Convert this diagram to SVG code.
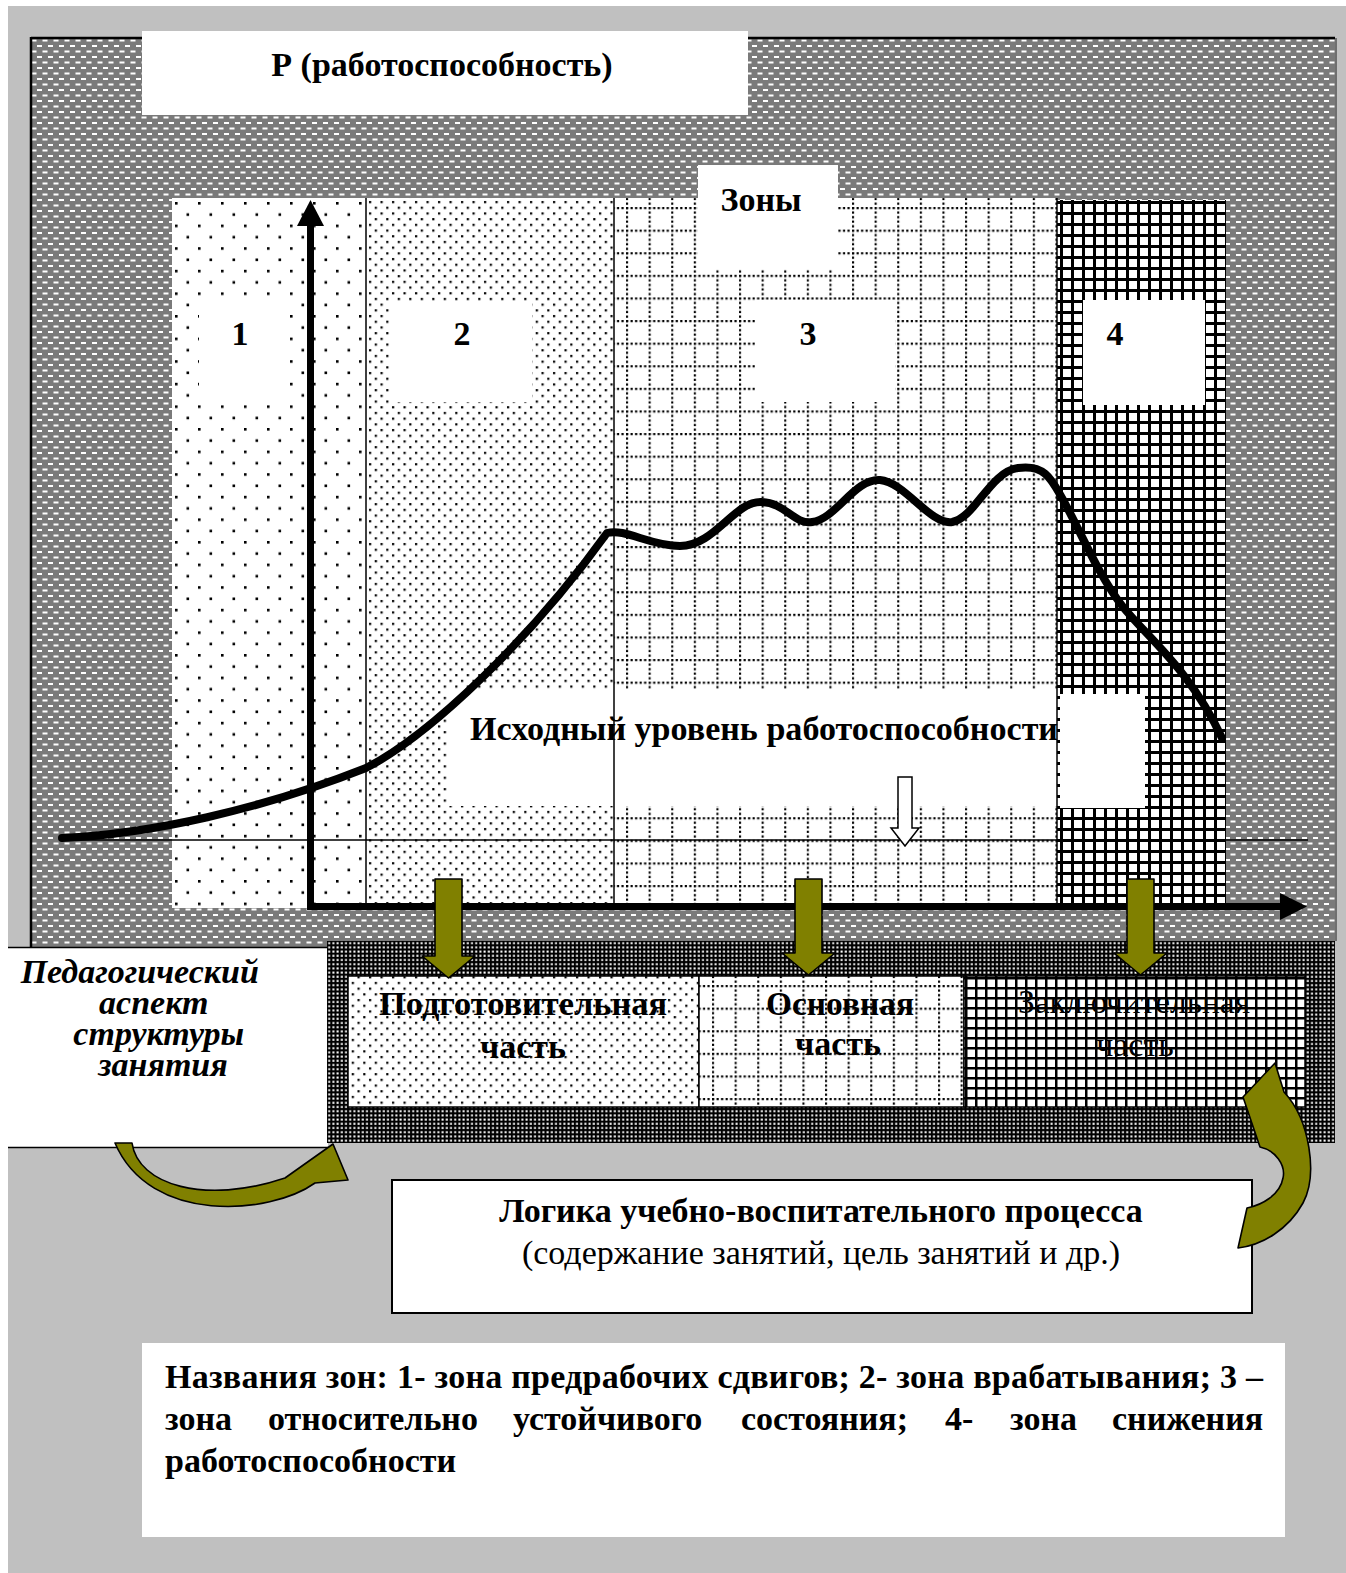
<svg xmlns="http://www.w3.org/2000/svg" width="1346" height="1573" viewBox="0 0 1346 1573">
  <style>
    .t { font-family: "Liberation Serif", "Times New Roman", serif; fill: #000; font-size: 34px; }
    .b { font-weight: bold; }
    .bi { font-weight: bold; font-style: italic; }
    .mid { text-anchor: middle; }
    .thin { stroke: #000; stroke-width: 1.5; fill: none; }
    .olive { fill: #808000; stroke: #000; stroke-width: 1.6; stroke-linejoin: round; }
  </style>
  <defs>
    <!-- grey background with white dashes -->
    <pattern id="pGray" x="31" y="38" width="11" height="11" patternUnits="userSpaceOnUse">
      <rect width="11" height="11" fill="#7a7a7a"/>
      <rect x="0.5" y="1.5" width="5" height="2" fill="#fff"/>
      <rect x="6" y="7" width="5" height="2" fill="#fff"/>
    </pattern>
    <!-- sparse dots -->
    <pattern id="pDot1" x="175" y="202" width="23" height="22.6" patternUnits="userSpaceOnUse">
      <rect width="23" height="22.6" fill="#fff"/>
      <rect x="0" y="0" width="2.6" height="2.6" fill="#000"/>
      <rect x="11.5" y="11.3" width="2.6" height="2.6" fill="#000"/>
    </pattern>
    <!-- dense dots -->
    <pattern id="pDot2" x="368" y="200" width="11.5" height="11.4" patternUnits="userSpaceOnUse">
      <rect width="11.5" height="11.4" fill="#fff"/>
      <rect x="1" y="1" width="2.2" height="2.2" fill="#000"/>
      <rect x="6.75" y="6.7" width="2.2" height="2.2" fill="#000"/>
    </pattern>
    <!-- dotted grid -->
    <pattern id="pDotGrid" x="626" y="207" width="22.6" height="22.6" patternUnits="userSpaceOnUse">
      <rect width="22.6" height="22.6" fill="#fff"/>
      <line x1="0" y1="1" x2="22.6" y2="1" stroke="#000" stroke-width="2.2" stroke-dasharray="2.2 2.32"/>
      <line x1="1" y1="0" x2="1" y2="22.6" stroke="#000" stroke-width="2.2" stroke-dasharray="2.2 2.32"/>
    </pattern>
    <pattern id="pDotGrid2" x="712" y="985" width="22.6" height="22.6" patternUnits="userSpaceOnUse">
      <rect width="22.6" height="22.6" fill="#fff"/>
      <line x1="0" y1="1" x2="22.6" y2="1" stroke="#000" stroke-width="2.2" stroke-dasharray="2.2 2.32"/>
      <line x1="1" y1="0" x2="1" y2="22.6" stroke="#000" stroke-width="2.2" stroke-dasharray="2.2 2.32"/>
    </pattern>
    <!-- bold grid -->
    <pattern id="pGrid" x="1060" y="201" width="11" height="11" patternUnits="userSpaceOnUse">
      <rect width="11" height="11" fill="#fff"/>
      <rect width="11" height="3" fill="#000"/>
      <rect width="3" height="11" fill="#000"/>
    </pattern>
    <pattern id="pGridFine" x="965" y="977" width="10" height="10" patternUnits="userSpaceOnUse">
      <rect width="10" height="10" fill="#fff"/>
      <rect width="10" height="2.5" fill="#000"/>
      <rect width="2.5" height="10" fill="#000"/>
    </pattern>
    <!-- dark checker band -->
    <pattern id="pDark" x="327" y="941" width="4.2" height="4.2" patternUnits="userSpaceOnUse">
      <rect width="4.2" height="4.2" fill="#000"/>
      <rect x="1.2" y="1.2" width="2" height="2" fill="#fff"/>
    </pattern>
  </defs>

  <!-- page background -->
  <rect x="0" y="0" width="1346" height="1573" fill="#fff"/>
  <rect x="8" y="6" width="1338" height="1567" fill="#c0c0c0"/>

  <!-- patterned chart panel -->
  <g id="panel">
    <rect x="31" y="38" width="1304" height="909" fill="url(#pGray)"/>
    <line x1="31" y1="38" x2="1335" y2="38" stroke="#000" stroke-width="2.5"/>
    <line x1="31" y1="37" x2="31" y2="947" stroke="#000" stroke-width="2.5"/>
    <line x1="1336" y1="38" x2="1336" y2="941" stroke="#555" stroke-width="1.5"/>
  </g>

  <g id="title">
    <rect x="142" y="31" width="606" height="84" fill="#fff"/>
    <text class="t b mid" x="442" y="76">Р (работоспособность)</text>
  </g>

  <!-- performance zones -->
  <g id="zone1">
    <rect x="172" y="198" width="194" height="710" fill="url(#pDot1)"/>
    <rect x="199" y="299" width="87" height="102" fill="#fff"/>
    <text class="t b mid" x="240" y="345" font-size="32">1</text>
  </g>
  <g id="zone2">
    <rect x="366" y="198" width="248" height="710" fill="url(#pDot2)"/>
    <rect x="390" y="302" width="142" height="100" fill="#fff"/>
    <text class="t b mid" x="462" y="345" font-size="32">2</text>
  </g>
  <g id="zone3">
    <rect x="614" y="198" width="443" height="710" fill="url(#pDotGrid)"/>
    <rect x="755" y="300" width="140" height="102" fill="#fff"/>
    <text class="t b mid" x="808" y="345" font-size="32">3</text>
  </g>
  <g id="zone4">
    <rect x="1057" y="200" width="169" height="708" fill="url(#pGrid)"/>
    <rect x="1083" y="300" width="122" height="105" fill="#fff"/>
    <text class="t b mid" x="1115" y="345" font-size="32">4</text>
  </g>
  <g id="zones-label">
    <rect x="698" y="165" width="140" height="103" fill="#fff"/>
    <text class="t b mid" x="761" y="211">Зоны</text>
  </g>

  <g id="baseline-label">
    <rect x="447" y="690" width="610" height="116" fill="#fff"/>
    <rect x="1060" y="694" width="85" height="114" fill="#fff"/>
    <text class="t b" x="470" y="740" textLength="588" lengthAdjust="spacingAndGlyphs">Исходный уровень работоспособности</text>
  </g>

  <!-- zone dividers and reference line -->
  <g id="guides">
    <line class="thin" x1="366" y1="198" x2="366" y2="908"/>
    <line class="thin" x1="614" y1="198" x2="614" y2="908"/>
    <line class="thin" x1="1057" y1="198" x2="1057" y2="908"/>
    <line class="thin" x1="60" y1="840" x2="1308" y2="840"/>
  </g>

  <!-- axes -->
  <g id="axes">
    <line x1="310.5" y1="222" x2="310.5" y2="910" stroke="#000" stroke-width="7"/>
    <polygon points="310.5,200 297,226 324,226" fill="#000"/>
    <line x1="307" y1="906.5" x2="1284" y2="906.5" stroke="#000" stroke-width="7"/>
    <polygon points="1307,906.5 1280,893 1280,920" fill="#000"/>
  </g>

  <!-- performance curve -->
  <g id="curve">
    <path d="M62,838 C150,834 260,810 366,768 C430,735 530,640 607,533 C625,528 650,546 680,546 C715,546 735,500 762,502 C785,503 795,525 812,522 C835,520 855,478 880,480 C905,482 930,525 952,522 C975,518 990,472 1018,468 C1045,464 1052,480 1062,498 C1080,530 1098,575 1123,607 C1150,640 1190,670 1222,738" fill="none" stroke="#000" stroke-width="8" stroke-linecap="round" stroke-linejoin="round"/>
  </g>

  <!-- lesson structure -->
  <g id="aspect-box">
    <rect x="8" y="947" width="320" height="201" fill="#fff"/>
    <line x1="8" y1="947.5" x2="328" y2="947.5" stroke="#000" stroke-width="1.5"/>
    <line x1="8" y1="1147.5" x2="328" y2="1147.5" stroke="#000" stroke-width="1.5"/>
    <text class="t bi mid" font-size="33">
      <tspan x="144" y="983">Педагогический</tspan>
      <tspan x="158" y="1014">аспект</tspan>
      <tspan x="163" y="1045">структуры</tspan>
      <tspan x="163" y="1076">занятия</tspan>
    </text>
  </g>

  <g id="parts-band">
    <rect x="327" y="941" width="1008" height="202" fill="url(#pDark)"/>
  </g>
  <g id="part-prep">
    <rect x="348" y="976" width="351" height="131" fill="url(#pDot2)" stroke="#000" stroke-width="1.5"/>
    <text class="t b mid" x="523" y="1015" textLength="288" lengthAdjust="spacingAndGlyphs">Подготовительная</text>
    <text class="t b mid" x="523" y="1058">часть</text>
  </g>
  <g id="part-main">
    <rect x="699" y="976" width="265" height="131" fill="url(#pDotGrid2)" stroke="#000" stroke-width="1.5"/>
    <text class="t b mid" x="840" y="1015" textLength="148" lengthAdjust="spacingAndGlyphs">Основная</text>
    <text class="t b mid" x="838" y="1055">часть</text>
  </g>
  <g id="part-final">
    <rect x="964" y="976" width="341" height="131" fill="url(#pGridFine)" stroke="#000" stroke-width="1.5"/>
    <text class="t mid" x="1134" y="1013" font-size="31" textLength="232" lengthAdjust="spacingAndGlyphs">Заключительная</text>
    <text class="t mid" x="1135" y="1056" font-size="31">часть</text>
  </g>

  <g id="logic-box">
    <rect x="392" y="1180" width="860" height="133" fill="#fff" stroke="#000" stroke-width="2"/>
    <text class="t b mid" x="821" y="1222">Логика учебно-воспитательного процесса</text>
    <text class="t mid" x="821" y="1264">(содержание занятий, цель занятий и др.)</text>
  </g>

  <g id="legend">
    <rect x="142" y="1343" width="1143" height="194" fill="#fff"/>
    <text class="t b" x="165" y="1388" textLength="1098" lengthAdjust="spacing">Названия зон: 1- зона предрабочих сдвигов; 2- зона врабатывания; 3 –</text>
    <text class="t b" y="1430">
      <tspan x="165">зона</tspan>
      <tspan x="268">относительно</tspan>
      <tspan x="513">устойчивого</tspan>
      <tspan x="741">состояния;</tspan>
      <tspan x="945">4-</tspan>
      <tspan x="1010">зона</tspan>
      <tspan x="1112">снижения</tspan>
    </text>
    <text class="t b" x="165" y="1472">работоспособности</text>
  </g>

  <!-- connectors -->
  <g id="connectors">
    <polygon points="898,777 912,777 912,828 919,828 905,846 891,828 898,828" fill="#fff" stroke="#000" stroke-width="1.5" stroke-linejoin="miter"/>
    <polygon class="olive" points="435,879 462,879 462,956 475,956 448.5,978 422,956 435,956"/>
    <polygon class="olive" points="795,879 822,879 822,953 835,953 808.5,975 782,953 795,953"/>
    <polygon class="olive" points="1127,879 1154,879 1154,953 1167,953 1140.5,975 1114,953 1127,953"/>
    <path class="olive" d="M115,1143 L132,1143 C138,1185 205,1205 285,1178 L333,1144 L348,1180 L315,1183 C270,1215 150,1225 115,1143 Z"/>
    <path class="olive" d="M1275,1063 L1284,1092 C1310,1120 1318,1175 1303,1203 C1288,1230 1262,1245 1238,1248 L1247,1208 C1262,1205 1280,1195 1283,1178 C1286,1165 1275,1150 1260,1147 L1243,1097 Z"/>
  </g>
</svg>
